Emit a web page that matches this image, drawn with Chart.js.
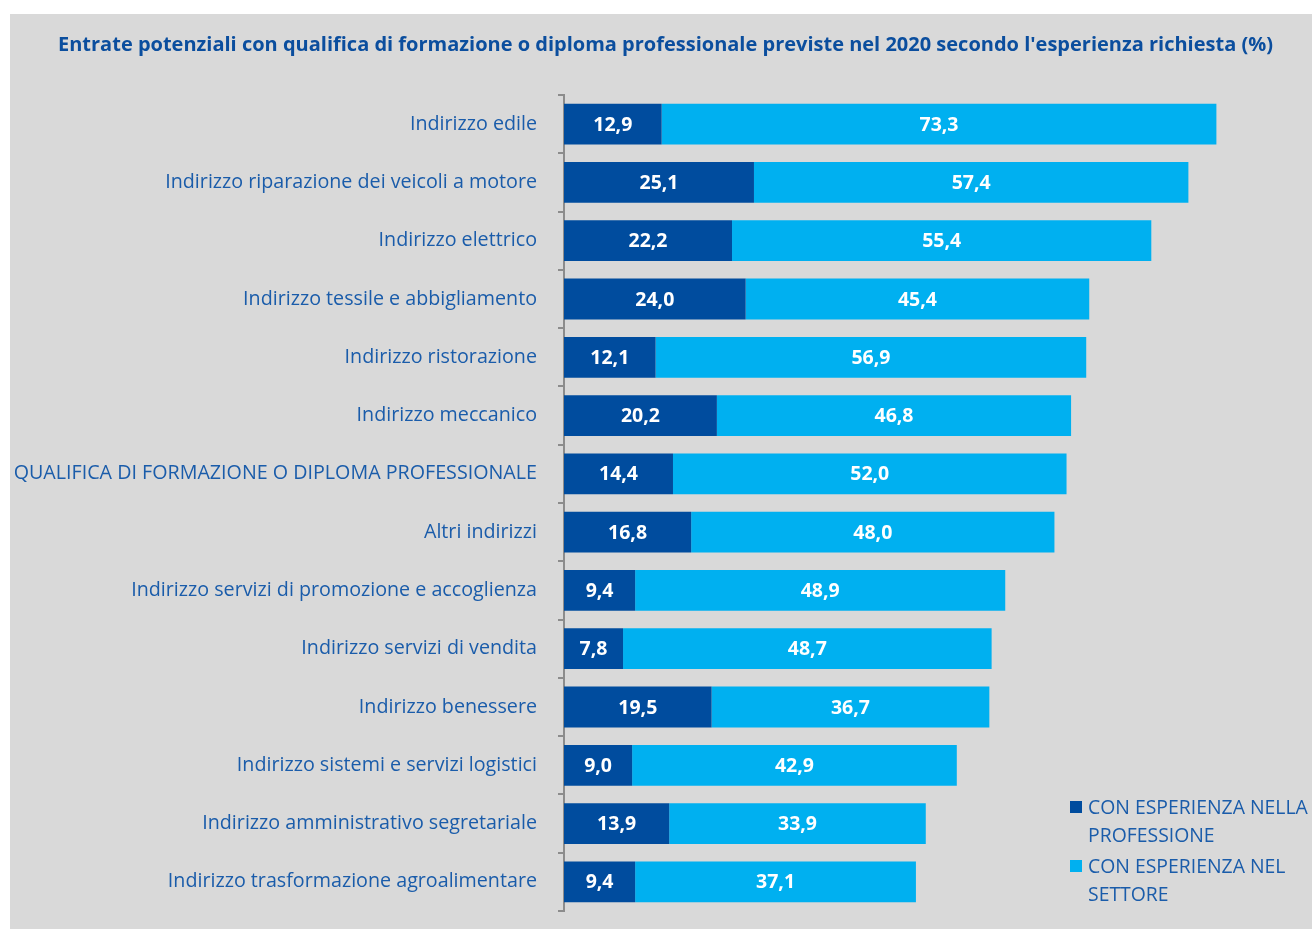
<!DOCTYPE html>
<html>
<head>
<meta charset="utf-8">
<script src="https://cdn.jsdelivr.net/npm/chart.js@4"></script>
<style>
  html, body { margin: 0; padding: 0; background: #ffffff; }
  #panel {
    position: absolute; left: 10px; top: 14px;
    width: 1302px; height: 915px; background: #d9d9d9;
  }
  canvas { display: block; }
</style>
</head>
<body>
<div id="panel"><canvas id="chart" width="1302" height="915"></canvas></div>
<script>
// ===================================
// DATA
// ===================================
const titleText = "Entrate potenziali con qualifica di formazione o diploma professionale previste nel 2020 secondo l'esperienza richiesta (%)";

const categories = [
    'Indirizzo edile',
    'Indirizzo riparazione dei veicoli a motore',
    'Indirizzo elettrico',
    'Indirizzo tessile e abbigliamento',
    'Indirizzo ristorazione',
    'Indirizzo meccanico',
    'QUALIFICA DI FORMAZIONE O DIPLOMA PROFESSIONALE',
    'Altri indirizzi',
    'Indirizzo servizi di promozione e accoglienza',
    'Indirizzo servizi di vendita',
    'Indirizzo benessere',
    'Indirizzo sistemi e servizi logistici',
    'Indirizzo amministrativo segretariale',
    'Indirizzo trasformazione agroalimentare'
];

const professione = [12.9, 25.1, 22.2, 24.0, 12.1, 20.2, 14.4, 16.8, 9.4, 7.8, 19.5, 9.0, 13.9, 9.4];
const settore = [73.3, 57.4, 55.4, 45.4, 56.9, 46.8, 52.0, 48.0, 48.9, 48.7, 36.7, 42.9, 33.9, 37.1];

const seriesNames = [
    ['CON ESPERIENZA NELLA', 'PROFESSIONE'],
    ['CON ESPERIENZA NEL', 'SETTORE']
];

const darkBlue = '#004c9e';
const lightBlue = '#00b0f0';
const textBlue = '#1a5caa';
const fontFamily = "'Open Sans', 'Noto Sans', sans-serif";

// ===================================
// PLUGINS
// ===================================

// the title in the original sits a little right of the canvas centre
const titleShift = {
    id: 'titleShift',
    afterLayout(chart) {
        if (chart.titleBlock) {
            chart.titleBlock.left += 19;
            chart.titleBlock.right += 19;
        }
    }
};

// values written inside each bar segment
const barValues = {
    id: 'barValues',
    afterDatasetsDraw(chart) {
        const ctx = chart.ctx;
        ctx.save();
        ctx.font = 'bold 19.5px ' + fontFamily;
        ctx.fillStyle = '#ffffff';
        ctx.textAlign = 'center';
        ctx.textBaseline = 'middle';
        chart.data.datasets.forEach((ds, i) => {
            chart.getDatasetMeta(i).data.forEach((bar, j) => {
                const left = Math.min(bar.x, bar.base);
                const right = Math.max(bar.x, bar.base);
                const txt = ds.data[j].toFixed(1).replace('.', ',');
                ctx.fillText(txt, (left + right) / 2, bar.y + 1);
            });
        });
        ctx.restore();
    }
};

// legend in the lower right corner, two lines per entry
const cornerLegend = {
    id: 'cornerLegend',
    afterDraw(chart) {
        const ctx = chart.ctx;
        const colors = [darkBlue, lightBlue];
        let y = 793;
        ctx.save();
        ctx.font = '19.4px ' + fontFamily;
        ctx.textAlign = 'left';
        ctx.textBaseline = 'middle';
        seriesNames.forEach((lines, i) => {
            ctx.fillStyle = colors[i];
            ctx.fillRect(1060, y - 6, 12, 12);
            ctx.fillStyle = textBlue;
            lines.forEach((line, k) => {
                ctx.fillText(line, 1078, y + 1 + k * 28);
            });
            y += 59;
        });
        ctx.restore();
    }
};

// ===================================
// CHART
// ===================================
new Chart(document.getElementById('chart'), {
    type: 'bar',
    data: {
        labels: categories,
        datasets: [
            {
                label: seriesNames[0].join(' '),
                data: professione,
                backgroundColor: darkBlue,
                barPercentage: 0.7,
                categoryPercentage: 1
            },
            {
                label: seriesNames[1].join(' '),
                data: settore,
                backgroundColor: lightBlue,
                barPercentage: 0.7,
                categoryPercentage: 1
            }
        ]
    },
    options: {
        indexAxis: 'y',
        responsive: false,
        animation: false,
        layout: {
            padding: { top: 0, right: 29, bottom: 18, left: 0 }
        },
        plugins: {
            legend: { display: false },
            tooltip: { enabled: false },
            title: {
                display: true,
                text: titleText,
                color: '#0b4e9e',
                font: { family: fontFamily, size: 20, weight: 'bold' },
                padding: { top: 19, bottom: 38 }
            }
        },
        scales: {
            x: {
                stacked: true,
                min: 0,
                max: 95,
                display: false
            },
            y: {
                stacked: true,
                afterFit(scale) {
                    scale.width = 554;
                    scale.paddingTop = 0;
                    scale.paddingBottom = 0;
                },
                border: { display: true, color: '#8c8c8c', width: 2 },
                grid: {
                    drawOnChartArea: false,
                    tickLength: 6,
                    color: '#8c8c8c',
                    lineWidth: 2
                },
                ticks: {
                    color: textBlue,
                    padding: 21,
                    font: { family: fontFamily, size: 19.7 }
                }
            }
        }
    },
    plugins: [titleShift, barValues, cornerLegend]
});
</script>
</body>
</html>
